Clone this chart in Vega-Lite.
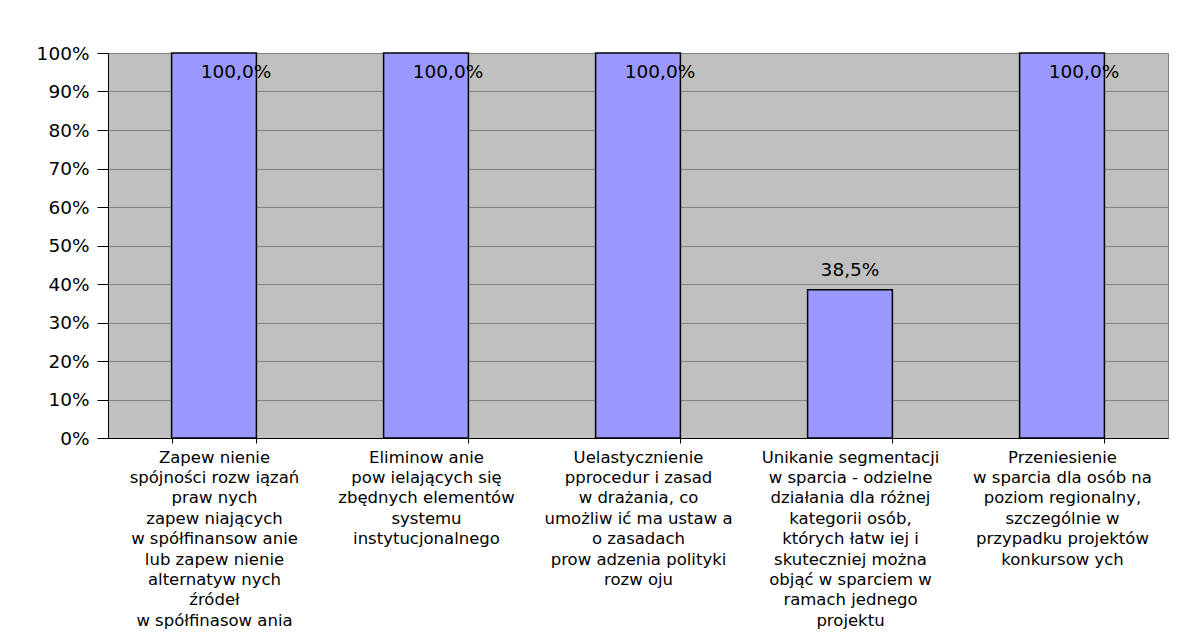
{
  "$schema": "https://vega.github.io/schema/vega-lite/v6.json",
  "width": 1060,
  "height": 385,
  "autosize": {"type": "none"},
  "padding": {"left": 108, "top": 53, "right": 31, "bottom": 195},
  "background": "white",
  "config": {
    "font": "DejaVu Sans",
    "view": {"fill": "#C0C0C0", "stroke": "#808080", "strokeWidth": 1}
  },
  "data": {
    "values": [
      {"kat": "Zapew nienie|spójności rozw iązań|praw nych|zapew niających|w spółfinansow anie|lub zapew nienie|alternatyw nych|źródeł|w spółfinasow ania", "wartosc": 1.0, "etykieta": "100,0%"},
      {"kat": "Eliminow anie|pow ielających się|zbędnych elementów|systemu|instytucjonalnego", "wartosc": 1.0, "etykieta": "100,0%"},
      {"kat": "Uelastycznienie|pprocedur i zasad|w drażania, co|umożliw ić ma ustaw a|o zasadach|prow adzenia polityki|rozw oju", "wartosc": 1.0, "etykieta": "100,0%"},
      {"kat": "Unikanie segmentacji|w sparcia - odzielne|działania dla różnej|kategorii osób,|których łatw iej i|skuteczniej można|objąć w sparciem w|ramach jednego|projektu", "wartosc": 0.385, "etykieta": "38,5%"},
      {"kat": "Przeniesienie|w sparcia dla osób na|poziom regionalny,|szczególnie w|przypadku projektów|konkursow ych", "wartosc": 1.0, "etykieta": "100,0%"}
    ]
  },
  "encoding": {
    "x": {
      "field": "kat",
      "type": "nominal",
      "sort": null,
      "scale": {"paddingInner": 0.6, "paddingOuter": 0.3},
      "axis": {
        "title": null,
        "labelAngle": 0,
        "labelExpr": "split(datum.label, '|')",
        "labelFontSize": 16.5,
        "labelLineHeight": 20.4,
        "labelColor": "black",
        "labelPadding": 6,
        "labelLimit": 0,
        "tickBand": "extent",
        "tickColor": "black",
        "tickSize": 5,
        "domainColor": "black",
        "domainWidth": 1,
        "grid": false
      }
    },
    "y": {
      "field": "wartosc",
      "type": "quantitative",
      "scale": {"domain": [0, 1], "nice": false},
      "axis": {
        "title": null,
        "format": ".0%",
        "values": [0, 0.1, 0.2, 0.3, 0.4, 0.5, 0.6, 0.7, 0.8, 0.9, 1.0],
        "labelFontSize": 18.5,
        "labelColor": "black",
        "labelPadding": 8,
        "tickColor": "black",
        "tickSize": 11,
        "domainColor": "black",
        "grid": true,
        "gridColor": "#808080",
        "gridWidth": 1
      }
    }
  },
  "layer": [
    {
      "mark": {"type": "bar", "color": "#9999FF", "stroke": "black", "strokeWidth": 1.5}
    },
    {
      "transform": [{"filter": "datum.wartosc >= 1"}],
      "mark": {"type": "text", "fontSize": 18.5, "color": "black", "baseline": "top", "dy": 10, "dx": 22},
      "encoding": {"text": {"field": "etykieta"}}
    },
    {
      "transform": [{"filter": "datum.wartosc < 1"}],
      "mark": {"type": "text", "fontSize": 18.5, "color": "black", "baseline": "bottom", "dy": -10},
      "encoding": {"text": {"field": "etykieta"}}
    }
  ]
}
